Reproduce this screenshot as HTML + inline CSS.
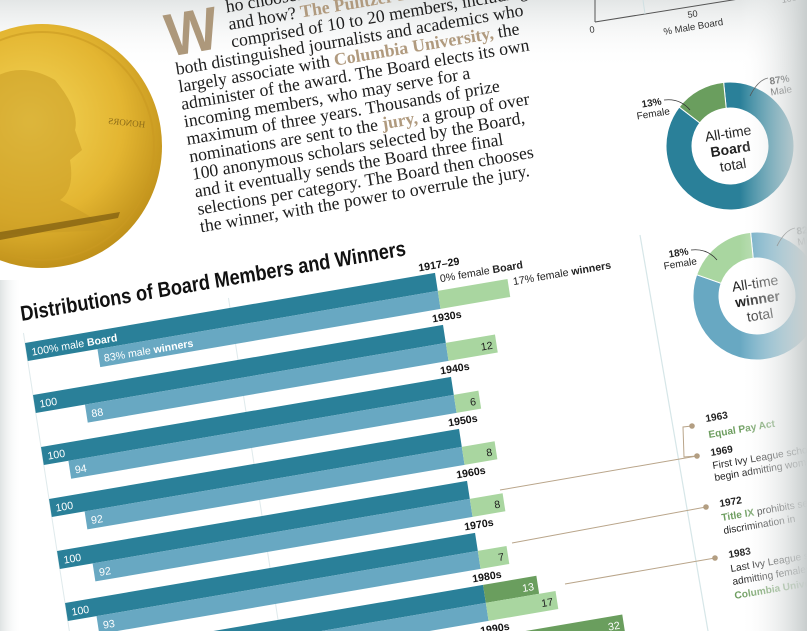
<!DOCTYPE html>
<html><head><meta charset="utf-8">
<style>
html,body{margin:0;padding:0;background:#fff;overflow:hidden;width:807px;height:631px}
svg{display:block}
.sans{font-family:"Liberation Sans Narrow","Liberation Sans",sans-serif}
.serif{font-family:"Liberation Serif",serif}
</style></head>
<body>
<svg id="page" width="807" height="631" viewBox="0 0 807 631" xmlns="http://www.w3.org/2000/svg" overflow="hidden">
<defs>
<linearGradient id="topfade" x1="0" y1="0" x2="0" y2="1"><stop offset="0" stop-color="#e3e6e6"/><stop offset="1" stop-color="#ffffff" stop-opacity="0"/></linearGradient>
<linearGradient id="rightfade" x1="0" y1="0" x2="1" y2="0"><stop offset="0" stop-color="#ffffff" stop-opacity="0"/><stop offset="1" stop-color="#c8cdcd"/></linearGradient>
<linearGradient id="leftfade" x1="0" y1="0" x2="1" y2="0"><stop offset="0" stop-color="#dfe3e3"/><stop offset="1" stop-color="#ffffff" stop-opacity="0"/></linearGradient>
<radialGradient id="gold" cx="0.45" cy="0.4" r="0.65"><stop offset="0" stop-color="#f4d658"/><stop offset="0.6" stop-color="#e3b531"/><stop offset="1" stop-color="#b98a16"/></radialGradient>
<clipPath id="pageclip"><rect width="807" height="631"/></clipPath>
</defs>
<g clip-path="url(#pageclip)">
<rect width="807" height="631" fill="#fff"/>
<rect width="807" height="70" fill="url(#topfade)"/>
<rect x="0" y="280" width="22" height="351" fill="url(#leftfade)"/>

<g>
<ellipse cx="42" cy="146" rx="120" ry="122" fill="url(#gold)"/>
<ellipse cx="42" cy="146" rx="112" ry="114" fill="none" stroke="#c99a22" stroke-width="2" opacity="0.6"/>
<path d="M-10 80 Q20 60 55 80 Q80 110 75 130 L82 150 L70 160 Q75 190 60 200 Q90 215 110 230 L-10 235 Z" fill="#c99a25" opacity="0.55"/>
<path d="M0 232 L120 212 L118 218 L0 240 Z" fill="#7a5a10" opacity="0.7"/>
<text x="105" y="125" font-size="9" fill="#8a6a18" class="serif" transform="rotate(6 120 125) scale(-1,1) translate(-250,0)">HONORS</text>
</g>

<g id="frame" transform="matrix(1,-0.171,0.154,1,25,343)">
  <g class="serif" font-size="17.5" fill="#1e1e1e">
    <text x="183" y="-255" font-size="60" font-weight="bold" fill="#ad987b" textLength="52" lengthAdjust="spacingAndGlyphs" class="sans">W</text>
    <text x="246" y="-288.5">ho chooses the Pulitzer winners,</text>
    <text x="246" y="-271">and how? <tspan fill="#b09a7e" font-weight="bold">The Pulitzer Prize Board,</tspan></text>
    <text x="246" y="-253.5">comprised of 10 to 20 members, including</text>
    <text x="188" y="-236">both distinguished journalists and academics who</text>
    <text x="188" y="-218.5">largely associate with <tspan fill="#b09a7e" font-weight="bold">Columbia University,</tspan> the</text>
    <text x="188" y="-201">administer of the award. The Board elects its own</text>
    <text x="188" y="-183.5">incoming members, who may serve for a</text>
    <text x="188" y="-166">maximum of three years. Thousands of prize</text>
    <text x="188" y="-148.5">nominations are sent to the <tspan fill="#b09a7e" font-weight="bold">jury,</tspan> a group of over</text>
    <text x="188" y="-131">100 anonymous scholars selected by the Board,</text>
    <text x="188" y="-113.5">and it eventually sends the Board three final</text>
    <text x="188" y="-96">selections per category. The Board then chooses</text>
    <text x="188" y="-78.5">the winner, with the power to overrule the jury.</text>
  </g>
  <text class="sans" x="0" y="-22" font-size="21" font-weight="bold" fill="#111" textLength="385" lengthAdjust="spacingAndGlyphs">Distributions of Board Members and Winners</text>
  <g id="grid"></g>
  <g id="bars"></g>
</g>

<g stroke="#555" stroke-width="1" fill="none">
<line x1="595" y1="0" x2="595" y2="22"/>
<line x1="595" y1="22" x2="745" y2="-2"/>
<line x1="643" y1="0" x2="645" y2="14" stroke="#cfe0e2"/>
</g>
<text class="sans" font-size="9" fill="#333" transform="translate(590,33) matrix(1,-0.171,0.154,1,0,0)">0</text>
<text class="sans" font-size="9" fill="#333" transform="translate(688,18) matrix(1,-0.171,0.154,1,0,0)">50</text>
<text class="sans" font-size="9" fill="#333" transform="translate(782,3) matrix(1,-0.171,0.154,1,0,0)">100</text>
<text class="sans" font-size="9.5" fill="#333" transform="translate(664,35) matrix(1,-0.171,0.154,1,0,0)">% Male Board</text>

<g id="donuts"></g>

<g>
<line x1="640" y1="235" x2="708" y2="631" stroke="#d6e6e8" stroke-width="1.2"/>
<g stroke="#b9a58a" stroke-width="1" fill="none">
<line x1="500" y1="490" x2="697" y2="456"/>
<line x1="512" y1="543" x2="706" y2="507"/>
<line x1="565" y1="584" x2="715" y2="558"/>
<polyline points="692,426 683,427 684,457 697,456"/>
</g>
<g fill="#b39e82">
<circle cx="692" cy="426" r="2.8"/>
<circle cx="697" cy="456" r="2.8"/>
<circle cx="706" cy="507" r="2.8"/>
<circle cx="715" cy="558" r="2.8"/>
</g>
<g class="sans" font-size="10" fill="#222">
<text font-weight="bold" transform="translate(706,422) matrix(1,-0.171,0.154,1,0,0)">1963</text>
<text font-weight="bold" fill="#6e9e60" transform="translate(709,438) matrix(1,-0.171,0.154,1,0,0)">Equal Pay Act</text>
<text font-weight="bold" transform="translate(711,456) matrix(1,-0.171,0.154,1,0,0)">1969</text>
<text transform="translate(713,469) matrix(1,-0.171,0.154,1,0,0)">First Ivy League schools</text>
<text transform="translate(715,481) matrix(1,-0.171,0.154,1,0,0)">begin admitting women</text>
<text font-weight="bold" transform="translate(720,507) matrix(1,-0.171,0.154,1,0,0)">1972</text>
<text transform="translate(722,521) matrix(1,-0.171,0.154,1,0,0)"><tspan font-weight="bold" fill="#6e9e60">Title IX</tspan> prohibits sex</text>
<text transform="translate(724,534) matrix(1,-0.171,0.154,1,0,0)">discrimination in</text>
<text font-weight="bold" transform="translate(729,558) matrix(1,-0.171,0.154,1,0,0)">1983</text>
<text transform="translate(731,572) matrix(1,-0.171,0.154,1,0,0)">Last Ivy League school</text>
<text transform="translate(733,585) matrix(1,-0.171,0.154,1,0,0)">admitting females:</text>
<text font-weight="bold" fill="#6e9e60" transform="translate(735,599) matrix(1,-0.171,0.154,1,0,0)">Columbia University</text>
</g>
</g>

<rect x="740" y="0" width="67" height="631" fill="url(#rightfade)"/>
</g>
</svg>
<script>
const periods = ["1917–29","1930s","1940s","1950s","1960s","1970s","1980s","1990s"];
const boardMale = [100,100,100,100,100,100,87,68];
const boardFemale = [0,0,0,0,0,0,13,32];
const winnersMale = [83,88,94,92,92,93,83,75];
const winnersFemale = [17,12,6,8,8,7,17,25];
const donutLabels = ["Board","winner"];
const donutFemale = [13,18];
const donutMale = [87,82];

const NS = "http://www.w3.org/2000/svg";
const SPLIT = 410, ROW = 52, BH = 18;
function xs(p){ return p * 4.1; }
function rowY(i){ return i * ROW; }
function mk(tag, attrs, parent){
  const e = document.createElementNS(NS, tag);
  for (const k in attrs) e.setAttribute(k, attrs[k]);
  parent.appendChild(e);
  return e;
}
const COL_BM="#2a8099", COL_WM="#68a8c2", COL_BF="#6a9e5e", COL_WF="#a9d6a0";
const grid = document.getElementById('grid');
[0,50].forEach(function(p){
  const l = mk('line', {x1: SPLIT - xs(100 - p), x2: SPLIT - xs(100 - p), y1: -10, y2: 420, stroke: '#dfeaec', 'stroke-width': 1}, grid);
  
  
});
const bars = document.getElementById('bars');
periods.forEach(function(per, i){
  const y = rowY(i);
  const g = mk('g', {}, bars);
  
  
  const b1 = mk('rect', {x: SPLIT - xs(boardMale[i]), y: y, width: xs(boardMale[i]), height: BH, fill: COL_BM}, g);
  
  
  if (boardFemale[i] > 0) {
    const b2 = mk('rect', {x: SPLIT, y: y, width: xs(boardFemale[i]), height: BH, fill: COL_BF}, g);
    
    
  }
  const w1 = mk('rect', {x: SPLIT - xs(winnersMale[i]), y: y + BH, width: xs(winnersMale[i]), height: BH, fill: COL_WM}, g);
  
  
  const w2 = mk('rect', {x: SPLIT, y: y + BH, width: xs(winnersFemale[i]), height: BH, fill: COL_WF}, g);
  
  

  const pl = mk('text', {x: SPLIT + 5, y: y - 4, 'text-anchor': 'middle', 'font-size': 10.5, 'font-weight': 'bold', fill: '#111', class: 'sans'}, g);
  pl.textContent = per;
  
  

  const lb = mk('text', {x: SPLIT - xs(boardMale[i]) + 5, y: y + 13.5, 'font-size': 10.5, fill: '#fff', class: 'sans'}, g);
  
  
  const lw = mk('text', {x: SPLIT - xs(winnersMale[i]) + 5, y: y + BH + 13.5, 'font-size': 10.5, fill: '#fff', class: 'sans'}, g);
  
  
  if (i === 0) {
    lb.innerHTML = boardMale[i] + '% male <tspan font-weight="bold">Board</tspan>';
    lw.innerHTML = winnersMale[i] + '% male <tspan font-weight="bold">winners</tspan>';
    const fb = mk('text', {x: SPLIT + 4, y: y + 10, 'font-size': 10.5, fill: '#222', class: 'sans'}, g);
    fb.innerHTML = boardFemale[i] + '% female <tspan font-weight="bold">Board</tspan>';
    
    
    const fw = mk('text', {x: SPLIT + xs(winnersFemale[i]) + 5, y: y + BH + 7, 'font-size': 10.5, fill: '#222', class: 'sans'}, g);
    fw.innerHTML = winnersFemale[i] + '% female <tspan font-weight="bold">winners</tspan>';
    
    
  } else {
    lb.textContent = boardMale[i];
    lw.textContent = winnersMale[i];
    const fw = mk('text', {x: SPLIT + xs(winnersFemale[i]) - 4, y: y + BH + 13.5, 'text-anchor': 'end', 'font-size': 10.5, fill: '#222', class: 'sans'}, g);
    fw.textContent = winnersFemale[i];
    
    
    if (boardFemale[i] > 0) {
      const fb = mk('text', {x: SPLIT + xs(boardFemale[i]) - 4, y: y + 13.5, 'text-anchor': 'end', 'font-size': 10.5, fill: '#fff', class: 'sans'}, g);
      fb.textContent = boardFemale[i];
      
      
    }
  }
});

const donuts = document.getElementById('donuts');
const dCenters = [[730,146],[757,296]];
const dMaleCol = [COL_BM, COL_WM], dFemCol = [COL_BF, COL_WF];
function arcPath(cx, cy, r0, r1, a0, a1){
  const p = function(r,a){ return [cx + r*Math.sin(a), cy - r*Math.cos(a)]; };
  const large = (a1 - a0) > Math.PI ? 1 : 0;
  const A = p(r1,a0), B = p(r1,a1), C = p(r0,a1), D = p(r0,a0);
  return 'M'+A[0]+' '+A[1]+' A'+r1+' '+r1+' 0 '+large+' 1 '+B[0]+' '+B[1]+' L'+C[0]+' '+C[1]+' A'+r0+' '+r0+' 0 '+large+' 0 '+D[0]+' '+D[1]+' Z';
}
donutLabels.forEach(function(lbl, k){
  const cx = dCenters[k][0], cy = dCenters[k][1];
  const g = mk('g', {}, donuts);
  
  
  const start = -0.1;
  const fStart = start - donutFemale[k] / 100 * 2 * Math.PI;
  const mEnd = start + donutMale[k] / 100 * 2 * Math.PI;
  const m = mk('path', {d: arcPath(cx, cy, 38, 64, start, mEnd), fill: dMaleCol[k], stroke: '#fff', 'stroke-width': 1}, g);
  
  
  const f = mk('path', {d: arcPath(cx, cy, 38, 64, fStart, start), fill: dFemCol[k], stroke: '#fff', 'stroke-width': 1}, g);
  
  
  const t = mk('text', {'text-anchor': 'middle', 'font-size': 14, fill: '#222', class: 'sans', transform: 'translate(' + cx + ',' + cy + ') rotate(-9)'}, g);
  t.innerHTML = '<tspan x="0" y="-8">All-time</tspan><tspan x="0" y="8" font-weight="bold">' + lbl + '</tspan><tspan x="0" y="24">total</tspan>';
  
  
  const fl = mk('text', {'text-anchor': 'middle', 'font-size': 10, fill: '#222', class: 'sans', transform: 'translate(' + (cx - 78) + ',' + (cy - 40) + ') rotate(-9)'}, g);
  fl.innerHTML = '<tspan x="0" y="0" font-weight="bold">' + donutFemale[k] + '%</tspan><tspan x="0" y="11">Female</tspan>';
  
  
  const ml = mk('text', {'text-anchor': 'middle', 'font-size': 10, fill: '#222', class: 'sans', transform: 'translate(' + (cx + 50) + ',' + (cy - 63) + ') rotate(-9)'}, g);
  ml.innerHTML = '<tspan x="0" y="0" font-weight="bold">' + donutMale[k] + '%</tspan><tspan x="0" y="11">Male</tspan>';
  
  
  const c1 = mk('path', {d: 'M' + (cx - 66) + ' ' + (cy - 46) + ' Q' + (cx - 50) + ' ' + (cy - 48) + ' ' + (cx - 40) + ' ' + (cy - 36), fill: 'none', stroke: '#333', 'stroke-width': 0.8}, g);
  
  
  const c2 = mk('path', {d: 'M' + (cx + 38) + ' ' + (cy - 68) + ' Q' + (cx + 28) + ' ' + (cy - 66) + ' ' + (cx + 20) + ' ' + (cy - 50), fill: 'none', stroke: '#333', 'stroke-width': 0.8}, g);
  
  
});
</script>
</body></html>
